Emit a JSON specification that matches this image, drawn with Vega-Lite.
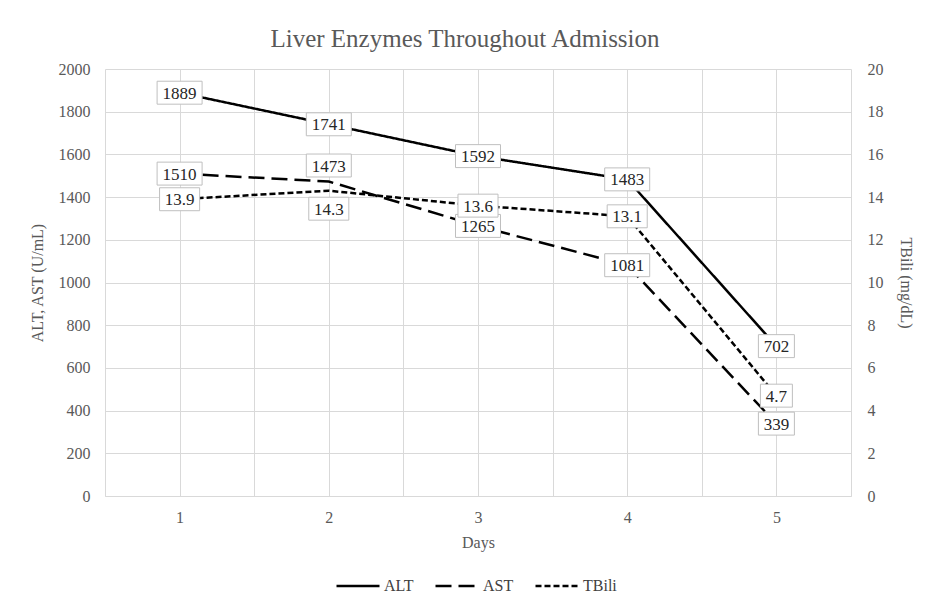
{
  "$schema": "https://vega.github.io/schema/vega-lite/v6.json",
  "width": 746,
  "height": 427,
  "autosize": {"type": "none"},
  "padding": {"left": 105, "top": 69, "right": 77, "bottom": 112},
  "background": "white",
  "title": {
    "text": "Liver Enzymes Throughout Admission",
    "font": "Liberation Serif, serif",
    "fontSize": 25,
    "fontWeight": "normal",
    "color": "#595959",
    "offset": 9,
    "dx": -13
  },
  "config": {
    "view": {"stroke": null},
    "font": "Liberation Serif, serif",
    "axis": {
      "labelFont": "Liberation Serif, serif",
      "labelFontSize": 16,
      "labelColor": "#595959",
      "titleFont": "Liberation Serif, serif",
      "titleFontSize": 16,
      "titleFontWeight": "normal",
      "titleColor": "#595959",
      "ticks": false,
      "gridColor": "#d9d9d9",
      "gridWidth": 1
    },
    "legend": {
      "labelFont": "Liberation Serif, serif",
      "labelFontSize": 16,
      "labelColor": "#404040"
    }
  },
  "data": {
    "values": [
      {"day": 1, "series": "ALT", "value": 1889},
      {"day": 2, "series": "ALT", "value": 1741},
      {"day": 3, "series": "ALT", "value": 1592},
      {"day": 4, "series": "ALT", "value": 1483},
      {"day": 5, "series": "ALT", "value": 702},
      {"day": 1, "series": "AST", "value": 1510},
      {"day": 2, "series": "AST", "value": 1473},
      {"day": 3, "series": "AST", "value": 1265},
      {"day": 4, "series": "AST", "value": 1081},
      {"day": 5, "series": "AST", "value": 339},
      {"day": 1, "series": "TBili", "value": 13.9},
      {"day": 2, "series": "TBili", "value": 14.3},
      {"day": 3, "series": "TBili", "value": 13.6},
      {"day": 4, "series": "TBili", "value": 13.1},
      {"day": 5, "series": "TBili", "value": 4.7}
    ]
  },
  "encoding": {
    "x": {
      "field": "day",
      "type": "quantitative",
      "scale": {"domain": [0.5, 5.5], "nice": false, "zero": false},
      "axis": {
        "values": [0.5, 1, 1.5, 2, 2.5, 3, 3.5, 4, 4.5, 5, 5.5],
        "labelExpr": "datum.value % 1 === 0 ? datum.value : ''",
        "title": "Days",
        "grid": true,
        "domainColor": "#d9d9d9",
        "labelFont": "Liberation Serif, serif",
        "titleFont": "Liberation Serif, serif",
        "labelPadding": 13,
        "titlePadding": 9
      }
    }
  },
  "layer": [
    {
      "transform": [{"filter": "datum.series !== 'TBili'"}],
      "encoding": {
        "y": {
          "field": "value",
          "type": "quantitative",
          "scale": {"domain": [0, 2000], "nice": false},
          "axis": {
            "values": [0, 200, 400, 600, 800, 1000, 1200, 1400, 1600, 1800, 2000],
            "format": "d",
            "title": "ALT, AST (U/mL)",
            "grid": true,
            "domain": false,
            "labelFont": "Liberation Serif, serif",
            "titleFont": "Liberation Serif, serif",
            "labelPadding": 15,
            "titlePadding": 13
          }
        }
      },
      "layer": [
        {
          "mark": {"type": "line", "color": "black", "strokeWidth": 2.5},
          "encoding": {
            "strokeDash": {
              "field": "series",
              "type": "nominal",
              "scale": {"domain": ["ALT", "AST", "TBili"], "range": [[1, 0], [16, 7], [6, 3]]},
              "legend": {
                "title": null,
                "orient": "none",
                "legendX": 230,
                "legendY": 494,
                "direction": "horizontal",
                "symbolType": "stroke",
                "symbolStrokeColor": "black",
                "symbolStrokeWidth": 2.5,
                "symbolSize": 1849,
                "labelOffset": 3,
                "columnPadding": 16,
                "labelFont": "Liberation Serif, serif"
              }
            }
          }
        },
        {
          "transform": [{"filter": "datum.value !== 1473"}],
          "mark": {"type": "point", "filled": true, "fill": "white", "stroke": "#bfbfbf", "strokeWidth": 1, "opacity": 1, "size": 2025},
          "encoding": {
            "shape": {
              "condition": {"test": "datum.value < 1000", "value": "M-0.8,-0.51H0.8V0.51H-0.8Z"},
              "value": "M-1,-0.51H1V0.51H-1Z"
            }
          }
        },
        {
          "transform": [{"filter": "datum.value === 1473"}],
          "mark": {"type": "point", "filled": true, "fill": "white", "stroke": "#bfbfbf", "strokeWidth": 1, "opacity": 1, "size": 2025, "shape": "M-1,-0.51H1V0.51H-1Z", "yOffset": -16}
        },
        {
          "transform": [{"filter": "datum.value !== 1473"}],
          "mark": {"type": "text", "font": "Liberation Serif, serif", "fontSize": 17, "color": "#262626", "baseline": "middle", "dy": 1},
          "encoding": {"text": {"field": "value", "type": "quantitative", "format": "d"}}
        },
        {
          "transform": [{"filter": "datum.value === 1473"}],
          "mark": {"type": "text", "font": "Liberation Serif, serif", "fontSize": 17, "color": "#262626", "baseline": "middle", "dy": -15},
          "encoding": {"text": {"field": "value", "type": "quantitative", "format": "d"}}
        }
      ]
    },
    {
      "transform": [{"filter": "datum.series === 'TBili'"}],
      "encoding": {
        "y": {
          "field": "value",
          "type": "quantitative",
          "scale": {"domain": [0, 20], "nice": false},
          "axis": {
            "orient": "right",
            "values": [0, 2, 4, 6, 8, 10, 12, 14, 16, 18, 20],
            "title": "TBili (mg/dL)",
            "grid": false,
            "domain": false,
            "labelFont": "Liberation Serif, serif",
            "titleFont": "Liberation Serif, serif",
            "labelPadding": 16,
            "titlePadding": 14
          }
        }
      },
      "layer": [
        {
          "mark": {"type": "line", "color": "black", "strokeWidth": 2.5},
          "encoding": {
            "strokeDash": {
              "field": "series",
              "type": "nominal",
              "scale": {"domain": ["ALT", "AST", "TBili"], "range": [[1, 0], [16, 7], [6, 3]]}
            }
          }
        },
        {
          "transform": [{"filter": "datum.value !== 14.3"}],
          "mark": {"type": "point", "filled": true, "fill": "white", "stroke": "#bfbfbf", "strokeWidth": 1, "opacity": 1, "size": 2025},
          "encoding": {
            "shape": {
              "condition": {"test": "datum.value < 10", "value": "M-0.71,-0.51H0.71V0.51H-0.71Z"},
              "value": "M-0.89,-0.51H0.89V0.51H-0.89Z"
            }
          }
        },
        {
          "transform": [{"filter": "datum.value === 14.3"}],
          "mark": {"type": "point", "filled": true, "fill": "white", "stroke": "#bfbfbf", "strokeWidth": 1, "opacity": 1, "size": 2025, "shape": "M-0.89,-0.51H0.89V0.51H-0.89Z", "yOffset": 18}
        },
        {
          "transform": [{"filter": "datum.value !== 14.3"}],
          "mark": {"type": "text", "font": "Liberation Serif, serif", "fontSize": 17, "color": "#262626", "baseline": "middle", "dy": 1},
          "encoding": {"text": {"field": "value", "type": "quantitative", "format": ".1f"}}
        },
        {
          "transform": [{"filter": "datum.value === 14.3"}],
          "mark": {"type": "text", "font": "Liberation Serif, serif", "fontSize": 17, "color": "#262626", "baseline": "middle", "dy": 19},
          "encoding": {"text": {"field": "value", "type": "quantitative", "format": ".1f"}}
        }
      ]
    }
  ],
  "resolve": {"scale": {"y": "independent"}}
}
